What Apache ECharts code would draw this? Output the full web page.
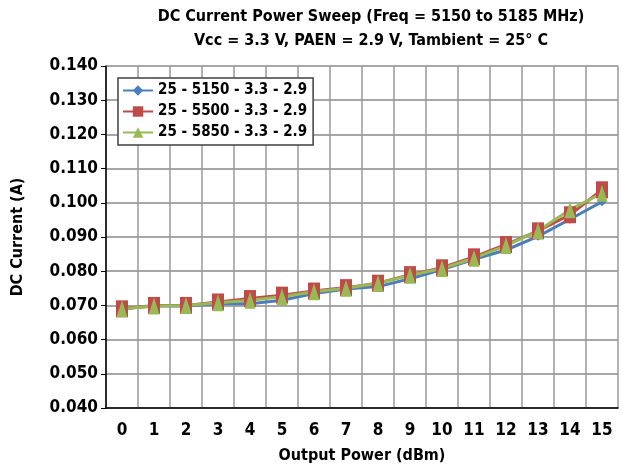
<!DOCTYPE html>
<html style="height: 100%">
<head>
    <meta charset="utf-8">
    <script src="https://cdn.jsdelivr.net/npm/echarts@6/dist/echarts.min.js"></script>
</head>
<body style="height: 100%;margin: 0">
<div id="chart1" style="width: 623px; height: 474px;"></div>
<script type="text/javascript">
// data
var powerLevels = ['0', '1', '2', '3', '4', '5', '6', '7', '8', '9', '10', '11', '12', '13', '14', '15'];
var seriesNames = ['25 - 5150 - 3.3 - 2.9', '25 - 5500 - 3.3 - 2.9', '25 - 5850 - 3.3 - 2.9'];
var current5150 = [0.069, 0.0698, 0.0698, 0.0705, 0.0705, 0.0715, 0.0735, 0.0748, 0.0755, 0.0778, 0.0805, 0.0835, 0.0862, 0.0902, 0.0952, 0.1003];
var current5500 = [0.069, 0.070, 0.070, 0.071, 0.072, 0.073, 0.0742, 0.0752, 0.0765, 0.079, 0.081, 0.0842, 0.0878, 0.0918, 0.0965, 0.1038];
var current5850 = [0.069, 0.0698, 0.0700, 0.0708, 0.0715, 0.0725, 0.074, 0.075, 0.0765, 0.0788, 0.0808, 0.0838, 0.0875, 0.0918, 0.098, 0.1028];

var font = "'DejaVu Sans Condensed', 'DejaVu Sans', sans-serif";
var myChart = echarts.init(document.getElementById('chart1'));
var option = {
    animation: false,
    title: {
        text: 'DC Current Power Sweep (Freq = 5150 to 5185 MHz)\nVcc = 3.3 V, PAEN = 2.9 V, Tambient = 25° C',
        left: 366,
        top: 0,
        textAlign: 'center',
        textStyle: {fontFamily: font, fontSize: 16, fontWeight: 'bold', color: '#000', lineHeight: 24}
    },
    legend: {
        orient: 'vertical',
        left: 118,
        top: 78,
        padding: [5, 6, 5, 4],
        itemGap: 6,
        itemWidth: 30,
        itemHeight: 13,
        borderColor: '#404040',
        borderWidth: 1.5,
        backgroundColor: '#fff',
        textStyle: {fontFamily: font, fontSize: 15, fontWeight: 'bold', color: '#000'},
        data: seriesNames
    },
    grid: {left: 106, right: 5, top: 66, bottom: 66},
    xAxis: {
        type: 'category',
        data: powerLevels,
        boundaryGap: true,
        name: 'Output Power (dBm)',
        nameLocation: 'middle',
        nameGap: 40,
        nameTextStyle: {fontFamily: font, fontSize: 16, fontWeight: 'bold', color: '#000'},
        axisLine: {lineStyle: {color: '#000', width: 1.5}},
        axisTick: {show: false},
        axisLabel: {fontFamily: font, fontSize: 17, fontWeight: 'bold', color: '#000', margin: 14},
        splitLine: {show: true, lineStyle: {color: '#9a9a9a', width: 1.5}}
    },
    yAxis: {
        type: 'value',
        min: 0.04,
        max: 0.14,
        interval: 0.01,
        name: 'DC Current (A)',
        nameLocation: 'middle',
        nameGap: 80,
        nameTextStyle: {fontFamily: font, fontSize: 16, fontWeight: 'bold', color: '#000'},
        axisLine: {show: true, lineStyle: {color: '#000', width: 1.5}},
        axisTick: {show: true, length: 5, lineStyle: {color: '#000'}},
        axisLabel: {
            fontFamily: font, fontSize: 17, fontWeight: 'bold', color: '#000', margin: 8,
            formatter: function (v) { return v.toFixed(3); }
        },
        splitLine: {show: true, lineStyle: {color: '#8a8a8a', width: 1.5}}
    },
    series: [
        {
            name: seriesNames[0], type: 'line', data: current5150,
            symbol: 'diamond', symbolSize: 9,
            itemStyle: {color: '#4a7ebb'}, lineStyle: {width: 3, color: '#4a7ebb'}
        },
        {
            name: seriesNames[1], type: 'line', data: current5500,
            symbol: 'rect', symbolSize: [12, 17],
            itemStyle: {color: '#be4b48'}, lineStyle: {width: 3, color: '#be4b48'}
        },
        {
            name: seriesNames[2], type: 'line', data: current5850,
            symbol: 'triangle', symbolSize: [11, 17],
            itemStyle: {color: '#98b954'}, lineStyle: {width: 3, color: '#98b954'}
        }
    ]
};
myChart.setOption(option);
</script>
</body>
</html>
